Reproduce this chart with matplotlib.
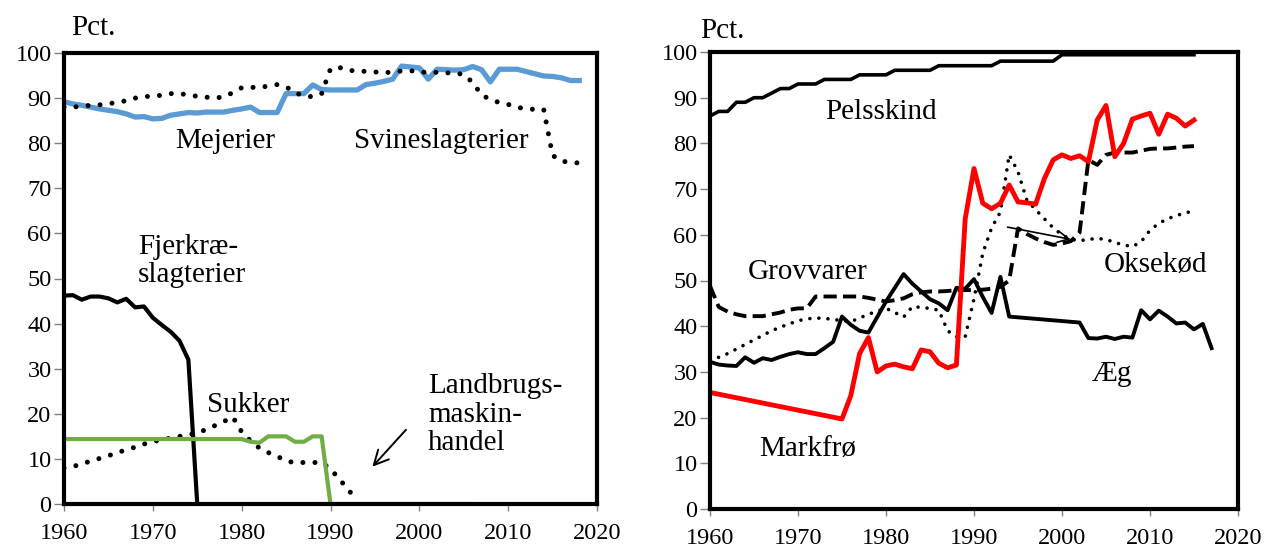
import numpy as np
import matplotlib as mpl
mpl.use("Agg")
import matplotlib.pyplot as plt

plt.rcParams['font.family'] = ['Liberation Serif', 'DejaVu Serif']

# venstre panel
yrs_mej = np.arange(1960, 2019)
mejerier = [89.2, 88.7, 88.4, 88.0, 87.6, 87.3, 87.0, 86.5, 85.8, 85.9,
            85.4, 85.5, 86.2, 86.5, 86.8, 86.7, 86.9, 86.9, 86.9, 87.3,
            87.6, 88.0, 86.8, 86.8, 86.8, 91.0, 91.0, 91.0, 92.9, 91.9,
            91.8, 91.8, 91.8, 91.8, 93.0, 93.3, 93.7, 94.2, 97.1, 96.9,
            96.7, 94.2, 96.4, 96.3, 96.2, 96.3, 97.0, 96.3, 93.6, 96.4,
            96.4, 96.4, 95.9, 95.4, 94.9, 94.8, 94.5, 93.9, 93.9]

yrs_svin = np.arange(1960, 2019)
svin = [88.0, 88.0, 88.2, 88.4, 88.5, 88.7, 89.1, 89.4, 90.0, 90.3,
        90.5, 90.6, 91.0, 91.0, 90.7, 90.4, 90.2, 90.0, 90.3, 91.2,
        92.3, 92.4, 92.3, 92.7, 93.0, 92.5, 91.2, 90.5, 90.3, 91.0,
        96.5, 96.8, 96.1, 96.1, 95.9, 95.8, 95.6, 95.8, 96.0, 96.1,
        95.7, 95.8, 95.7, 95.6, 95.6, 95.2, 93.5, 90.7, 89.7, 89.0,
        88.6, 88.0, 87.6, 87.5, 87.5, 77.3, 76.0, 75.8, 75.6]

yrs_fjer = np.arange(1960, 1976)
fjer = [46.2, 46.3, 45.3, 46.0, 46.0, 45.6, 44.7, 45.5, 43.6, 43.8,
        41.3, 39.7, 38.2, 36.2, 32.0, 0.0]

yrs_suk = np.arange(1960, 1994)
sukker = [8.0, 8.3, 8.9, 9.5, 10.1, 10.7, 11.4, 12.0, 12.6, 13.3,
          13.8, 14.3, 14.6, 15.0, 15.3, 15.8, 16.5, 17.4, 18.3, 19.3,
          16.0, 14.0, 12.4, 11.4, 10.6, 9.5, 9.2, 9.2, 9.2, 9.2,
          7.8, 5.5, 3.2, 0.6]

yrs_land = np.arange(1960, 2007)
landbrug = [14.4] * 21 + [13.8, 13.6, 15.0, 15.0, 15.0, 13.8, 13.8, 15.0, 15.0] + [0.0] * 17

# højre panel
yrs_pels = np.arange(1960, 2016)
pels = [86, 87, 87, 89, 89, 90, 90, 91, 92, 92,
        93, 93, 93, 94, 94, 94, 94, 95, 95, 95,
        95, 96, 96, 96, 96, 96, 97, 97, 97, 97,
        97, 97, 97, 98, 98, 98, 98, 98, 98, 98,
        99.4, 99.4, 99.4, 99.4, 99.4, 99.4, 99.4, 99.4, 99.4, 99.4,
        99.4, 99.4, 99.4, 99.4, 99.4, 99.4]

yrs_mark = [1960, 1975] + list(range(1976, 2016))
markfro = [25.5, 19.7, 24.8, 34.0, 37.5, 30.0, 31.3, 31.7, 31.1, 30.7,
           34.8, 34.4, 31.9, 30.9, 31.5, 63.5, 74.5, 66.9, 65.7, 66.9,
           70.9, 67.2, 67.0, 66.7, 72.3, 76.4, 77.5, 76.7, 77.3, 76.0,
           85.1, 88.3, 77.1, 80.0, 85.3, 86.0, 86.6, 82.0, 86.4, 85.5,
           83.8, 85.1]

yrs_aeg = list(range(1960, 1995)) + list(range(2002, 2018))
aeg = [32.2, 31.6, 31.4, 31.3, 33.2, 32.0, 33.0, 32.6, 33.3, 33.9,
       34.3, 33.9, 33.9, 35.2, 36.6, 42.1, 40.3, 39.0, 38.6, 42.0,
       45.4, 48.4, 51.4, 49.3, 47.6, 45.9, 45.0, 43.5, 48.4, 48.2,
       50.3, 46.4, 42.9, 50.8, 42.1,
       40.8, 37.4, 37.3, 37.7, 37.2, 37.7, 37.5, 43.5, 41.5, 43.4,
       42.1, 40.6, 40.8, 39.3, 40.5, 35.2]

yrs_grov = np.arange(1960, 2016)
grov = [48.8, 44.2, 43.2, 42.6, 42.2, 42.2, 42.2, 42.6, 43.0, 43.6,
        43.9, 43.9, 46.5, 46.5, 46.5, 46.5, 46.5, 46.5, 46.2, 45.8,
        45.4, 45.7, 46.1, 47.0, 47.4, 47.6, 47.6, 47.7, 47.9, 47.9,
        47.9, 48.0, 48.2, 48.6, 50.0, 61.4, 60.2, 59.2, 58.4, 57.8,
        58.1, 58.6, 60.5, 76.4, 75.3, 77.5, 78.0, 78.0, 78.0, 78.4,
        78.8, 78.9, 78.9, 79.1, 79.3, 79.4]

yrs_okse = np.arange(1960, 2016)
okse = [32.5, 33.2, 34.0, 35.0, 36.0, 37.0, 38.0, 39.0, 39.8, 40.5,
        41.2, 41.6, 41.8, 41.7, 41.5, 41.2, 41.0, 41.8, 42.6, 43.3,
        43.9, 43.0, 42.0, 44.3, 44.1, 43.9, 43.5, 39.0, 37.7, 37.7,
        46.0, 56.0, 61.5, 65.0, 77.5, 73.8, 67.6, 65.5, 63.5, 61.5,
        60.0, 59.0, 58.7, 59.0, 59.2, 59.0, 58.3, 57.8, 57.4, 58.5,
        61.0, 62.5, 63.5, 64.2, 64.8, 65.2]

W, H = 1266, 551
fig = plt.figure(figsize=(W / 100, H / 100), dpi=100)
ax1 = fig.add_axes([64 / W, 1 - 504 / H, (597 - 64) / W, (504 - 53) / H])
ax2 = fig.add_axes([710 / W, 1 - 509 / H, (1238 - 710) / W, (509 - 52) / H])

dots = (0, (0.01, 2.4))

ax1.plot(yrs_mej, mejerier, color='#5B9BD5', lw=3.8, solid_joinstyle='round')
ax1.plot(yrs_svin, svin, color='k', lw=3.6, linestyle=dots, dash_capstyle='round')
ax1.plot(yrs_fjer, fjer, color='k', lw=3.0)
ax1.plot(yrs_suk, sukker, color='k', lw=3.6, linestyle=dots, dash_capstyle='round')
ax1.plot(yrs_land, landbrug, color='#70AD47', lw=3.0)

ax2.plot(yrs_pels, pels, color='k', lw=2.6)
ax2.plot(yrs_grov, grov, color='k', lw=2.8, linestyle=(0, (3.4, 1.6)))
ax2.plot(yrs_okse, okse, color='k', lw=2.6, linestyle=(0, (0.01, 2.5)), dash_capstyle='round')
ax2.plot(yrs_aeg, aeg, color='k', lw=2.8)
ax2.plot(yrs_mark, markfro, color='#FF0000', lw=3.5)

for ax in (ax1, ax2):
    ax.set_xlim(1960, 2020)
    ax.set_ylim(0, 100)
    ax.set_xticks(range(1960, 2021, 10))
    ax.set_yticks(range(0, 101, 10))
    for s in ax.spines.values():
        s.set_linewidth(3.0)
        s.set_color('k')
    ax.tick_params(axis='both', direction='out', color='#808080', width=1.0,
                   labelsize=17.5, labelcolor='k')
    ax.tick_params(axis='y', length=7, pad=2)
    ax.tick_params(axis='x', length=5, pad=9)

fs = 21
ax1.text(1978.2, 80.5, 'Mejerier', fontsize=fs, ha='center', va='center')
ax1.text(2002.5, 80.5, 'Svineslagterier', fontsize=fs, ha='center', va='center')
ax1.text(1968.3, 53.9, 'Fjerkræ-\nslagterier', fontsize=fs, ha='left', va='center',
         linespacing=1.1)
ax1.text(1980.7, 22.0, 'Sukker', fontsize=fs, ha='center', va='center')
ax1.text(2001.0, 19.8, 'Landbrugs-\nmaskin-\nhandel', fontsize=fs, ha='left',
         va='center', linespacing=1.12)
ax1.annotate('', xy=(1994.5, 7.8), xytext=(1998.7, 16.9),
             arrowprops=dict(arrowstyle='->', color='k', lw=1.4,
                             mutation_scale=26))

ax2.text(1979.4, 86.8, 'Pelsskind', fontsize=fs, ha='center', va='center')
ax2.text(1971.1, 51.9, 'Grovvarer', fontsize=fs, ha='center', va='center')
ax2.text(2010.6, 53.4, 'Oksekød', fontsize=fs, ha='center', va='center')
ax2.text(2005.7, 29.5, 'Æg', fontsize=fs, ha='center', va='center')
ax2.text(1971.1, 13.1, 'Markfrø', fontsize=fs, ha='center', va='center')
ax2.annotate('', xy=(2001.3, 58.9), xytext=(1993.5, 61.8),
             arrowprops=dict(arrowstyle='->', color='k', lw=1.2,
                             mutation_scale=20))

fig.text(71 / W, 1 - 35 / H, 'Pct.', fontsize=fs, ha='left', va='baseline')
fig.text(700 / W, 1 - 38 / H, 'Pct.', fontsize=fs, ha='left', va='baseline')

fig.savefig('out.png', dpi=100)
